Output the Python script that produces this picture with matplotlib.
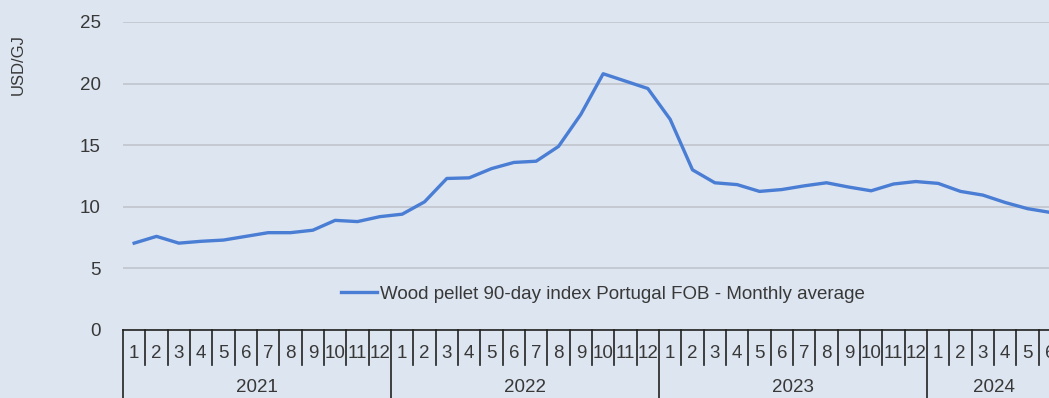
import matplotlib
matplotlib.use("Agg")
import matplotlib.pyplot as plt
import matplotlib.transforms as mtransforms

plt.rcParams['font.family'] = ['Liberation Sans', 'DejaVu Sans']

years = ["2021", "2022", "2023", "2024"]
months_per_year = [12, 12, 12, 6]
prices = [
    7.05, 7.6, 7.05, 7.2, 7.3, 7.6, 7.9, 7.9, 8.1, 8.9, 8.8, 9.2,
    9.4, 10.4, 12.3, 12.35, 13.1, 13.6, 13.7, 14.9, 17.5, 20.8, 20.2, 19.6,
    17.1, 13.0, 11.95, 11.8, 11.25, 11.4, 11.7, 11.95, 11.6, 11.3, 11.85, 12.05,
    11.9, 11.25, 10.95, 10.35, 9.85, 9.55,
]
series_name = "Wood pellet 90-day index Portugal FOB - Monthly average"
y_label = "USD/GJ"

bg = "#dde5f0"
line_col = "#4a7dd4"
text_col = "#383838"
fs = 13.5

W, H = 1049, 398
fig = plt.figure(figsize=(W / 100, H / 100), dpi=100, facecolor=bg)
n = sum(months_per_year)
left, right, top, bottom = 123, 1061, 22, 330
ax = fig.add_axes([left / W, (H - bottom) / H, (right - left) / W, (bottom - top) / H])
ax.set_facecolor(bg)

x = list(range(len(prices)))
ax.plot(x, prices, color=line_col, lw=2.4, label=series_name, solid_joinstyle="round")

ax.set_xlim(-0.5, n - 0.5)
ax.set_ylim(0, 25)
ax.set_yticks([0, 5, 10, 15, 20, 25])
ax.tick_params(axis="y", length=0, pad=16, labelsize=fs, labelcolor=text_col)
ax.set_xticks([])
ax.yaxis.grid(True, color="#c3c8cf", lw=1.3)
ax.set_axisbelow(True)
for s in ["left", "right", "top"]:
    ax.spines[s].set_visible(False)
ax.spines["bottom"].set_color("#222222")
ax.spines["bottom"].set_linewidth(1.2)

# two-level category axis drawn as a table below the plot
trans = mtransforms.blended_transform_factory(ax.transData, ax.transAxes)
px = 1.0 / (bottom - top)
month_depth = -35 * px
year_depth = -80 * px
pos = 0
for yr, cnt in zip(years, months_per_year):
    ax.plot([pos - 0.5, pos - 0.5], [0, year_depth], transform=trans,
            color="#222222", lw=1.2, clip_on=False)
    for m in range(cnt):
        if m > 0:
            ax.plot([pos + m - 0.5, pos + m - 0.5], [0, month_depth], transform=trans,
                    color="#222222", lw=1.2, clip_on=False)
        ax.text(pos + m, -24 * px, str(m + 1), transform=trans, ha="center", va="center",
                fontsize=fs, color=text_col)
    ax.text(pos + (cnt - 1) / 2, -58 * px, yr, transform=trans, ha="center", va="center",
            fontsize=fs, color=text_col)
    pos += cnt
ax.plot([pos - 0.5, pos - 0.5], [0, year_depth], transform=trans,
        color="#222222", lw=1.2, clip_on=False)

ax.legend(loc="center", bbox_to_anchor=((603 - left) / (right - left), (bottom - 294) * px),
          frameon=False, fontsize=fs, handlelength=1.9, handletextpad=0.15,
          labelcolor=text_col)

fig.text(18 / W, (H - 65) / H, y_label, rotation=90, ha="center", va="center",
         fontsize=12, color=text_col)

fig.savefig("out.png", dpi=100, facecolor=bg)
